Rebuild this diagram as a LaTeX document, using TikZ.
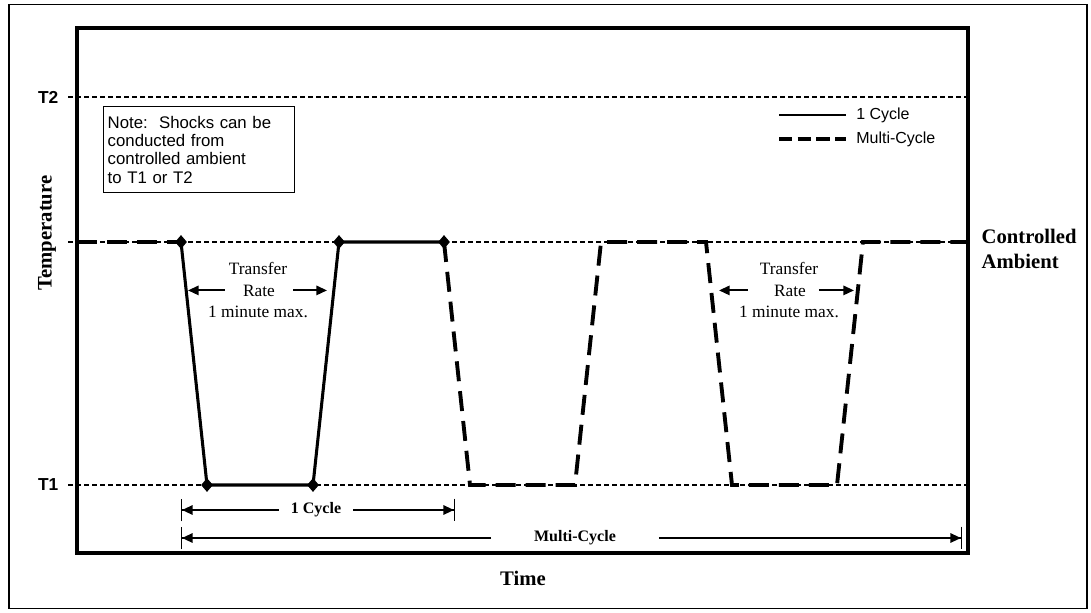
\documentclass[tikz,border=0pt]{standalone}
\usepackage{fontspec}
\setmainfont{Liberation Serif}
\newfontfamily\arialfont{Liberation Sans}
\usetikzlibrary{arrows.meta,shapes.geometric}

\begin{document}
\begin{tikzpicture}[
  x=0.75pt, y=-0.75pt,
  refline/.style={line width=1.1pt, dash pattern=on 3.75pt off 2.25pt},
  onecyc/.style={line width=2.3pt},
  multicyc/.style={line width=2.9pt, dash pattern=on 15pt off 7.5pt},
  dia/.style={diamond, fill, inner sep=0pt, minimum width=9pt, minimum height=10.5pt},
  lbl/.style={font=\fontsize{15.5}{18.75}\selectfont\bfseries},
  tlbl/.style={font=\arialfont\fontsize{13}{15}\selectfont\bfseries},
  sans/.style={font=\arialfont\fontsize{12}{13.75}\selectfont},
  rate/.style={font=\fontsize{13}{16}\selectfont},
  dimtxt/.style={font=\fontsize{12}{14}\selectfont\bfseries},
  arr/.style={-{Triangle[length=8pt,width=7pt]}, line width=1.5pt},
  dimarr/.style={-{Triangle[length=8pt,width=7pt]Bar[width=17pt,line width=0.75pt]}, line width=1.5pt}
]
\useasboundingbox (0,0) rectangle (1091,613);
\draw[line width=1.1pt] (9,4.5) rectangle (1087,608.5);

% temperature levels
\node[tlbl, anchor=east] (t2) at (63,97) {T2};
\node[tlbl, anchor=east] (t1) at (63,485) {T1};
\coordinate (r2) at (968,97);
\coordinate (ra) at (968,242);
\coordinate (r1) at (968,485);
\draw[refline] (68,97) -- (r2);
\draw[refline] (68,242) -- (ra);
\draw[refline] (68,485) -- (r1);
\draw[line width=3pt] (77,28) rectangle (968,553);

\node[draw, line width=1.1pt, anchor=north west, text width=137pt, inner sep=3pt,
      minimum height=64.5pt, align=left, sans, font=\arialfont\fontsize{12.6}{13.75}\selectfont] (nt) at (103,106)
  {Note:\ \ Shocks can be\\conducted from\\controlled ambient\\to T1 or T2};

% legend
\coordinate (lg1) at (779,115);
\coordinate (lg2) at (779,139);
\node[sans, anchor=west, inner xsep=7.5pt] (lgt1) at (846,115) {1 Cycle};
\node[sans, anchor=west, inner xsep=7.5pt] (lgt2) at (846,139) {Multi-Cycle};
\draw[line width=1.6pt] (lg1) -- (lgt1);
\draw[line width=2.4pt, dash pattern=on 10pt off 4pt] (lg2) -- (lgt2);

% one cycle
\node[dia] (d1) at (181,242) {};
\node[dia] (d2) at (207,485) {};
\node[dia] (d3) at (313,485) {};
\node[dia] (d4) at (339,242) {};
\node[dia] (d5) at (444,242) {};
\draw[onecyc] (d1.center) -- (d2.center) -- (d3.center) -- (d4.center) -- (d5.center);

% multi cycle
\coordinate (m0) at (77,242);
\coordinate (m1) at (470,485);
\coordinate (m2) at (575,485);
\coordinate (m3) at (601,242);
\coordinate (m4) at (706,242);
\coordinate (m5) at (732,485);
\coordinate (m6) at (837,485);
\coordinate (m7) at (863,242);
\coordinate (m8) at (968,242);
\draw[multicyc] (m0) -- (d1.center);
\draw[multicyc] (d5.center) -- (m1) -- (m2) -- (m3) -- (m4) -- (m5) -- (m6) -- (m7) -- (m8);

% transfer rate
\node[rate, anchor=base] (tra) at (258,274) {Transfer};
\node[rate, anchor=base, inner xsep=13.5pt] (rta) at (259,296) {Rate};
\node[rate, anchor=base] (mxa) at (258,317) {1 minute max.};
\coordinate (ea) at (188,290);
\coordinate (fa) at (327,290);
\draw[arr] (rta.west) -- (rta.west -| ea);
\draw[arr] (rta.east) -- (rta.east -| fa);

\node[rate, anchor=base] (trb) at (789,274) {Transfer};
\node[rate, anchor=base, inner xsep=13.5pt] (rtb) at (790,296) {Rate};
\node[rate, anchor=base] (mxb) at (789,317) {1 minute max.};
\coordinate (eb) at (719,290);
\coordinate (fb) at (854,290);
\draw[arr, shorten <=6pt] (rtb.west) -- (rtb.west -| eb);
\draw[arr, shorten <=-4pt] (rtb.east) -- (rtb.east -| fb);

\node[lbl, anchor=west, align=left] (amb) at (977,249) {Controlled\\Ambient};

% axes
\node[lbl, rotate=90] (tmp) at (47,233) {Temperature};
\node[lbl] (tim) at (523,578) {Time};

% cycle lengths
\node[dimtxt, inner xsep=9pt] (c1) at (316,510) {1 Cycle};
\coordinate (c1l) at (181,510);
\coordinate (c1r) at (455,510);
\draw[dimarr] (c1) -- (c1l);
\draw[dimarr] (c1) -- (c1r);

\node[dimtxt, inner xsep=32pt] (mc) at (575,538) {Multi-Cycle};
\coordinate (mcl) at (181,538);
\coordinate (mcr) at (962,538);
\draw[dimarr] (mc) -- (mcl);
\draw[dimarr] (mc) -- (mcr);
\end{tikzpicture}
\end{document}
